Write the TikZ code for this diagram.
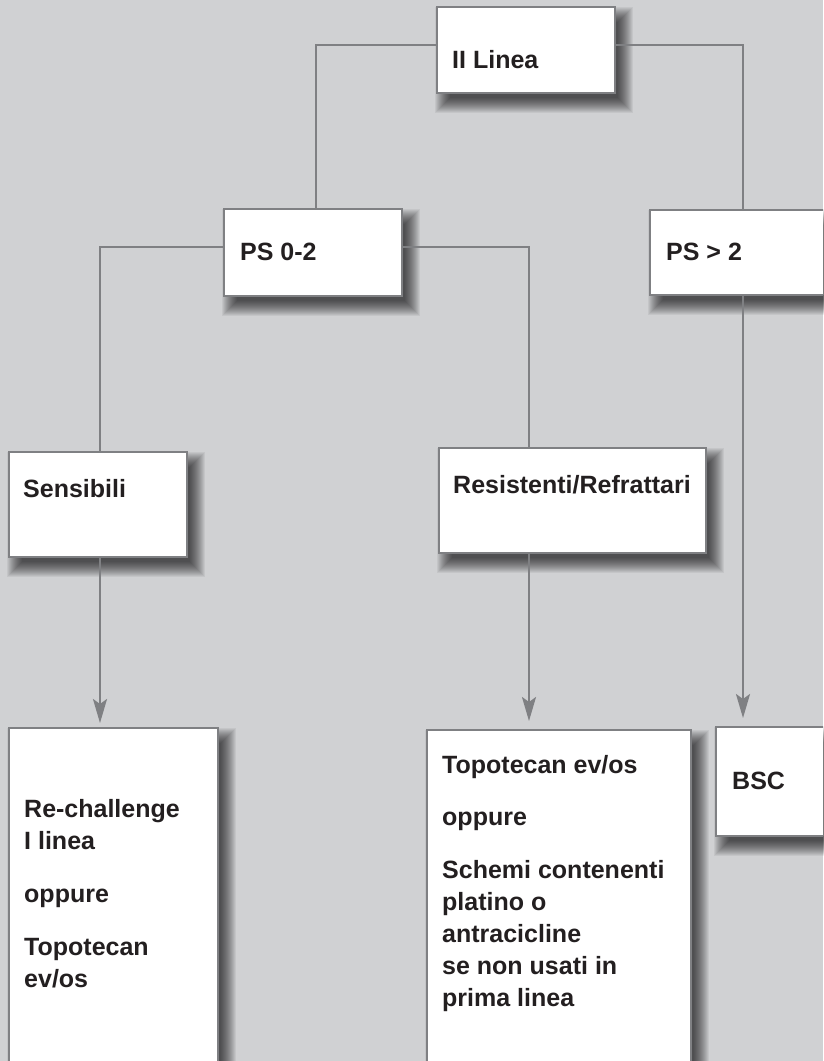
\documentclass[tikz,border=0pt]{standalone}
\usepackage{fontspec}
\setmainfont{Liberation Sans}
\usetikzlibrary{arrows.meta,calc}
\definecolor{bgc}{HTML}{D0D1D3}
\definecolor{linec}{HTML}{7F8083}
\definecolor{txtc}{HTML}{231F20}
\pgfdeclarelayer{bglayer}
\pgfdeclarelayer{shadowlayer}
\pgfsetlayers{bglayer,shadowlayer,main}
\newcommand\myboxshadow[1]{%
  \foreach \r in {-6,...,9}{%
    \fill[black,fill opacity=0.055]
      ([xshift={(8-\r)*1pt},yshift={(-10-\r)*1pt}]#1.south west)
      rectangle
      ([xshift={(8+\r)*1pt},yshift={(-10+\r)*1pt}]#1.north east);
  }}
\tikzset{
  box/.style={draw=linec,line width=2pt,fill=white,inner sep=0pt},
  lbl/.style={anchor=base west,inner sep=0pt,text=txtc,font=\fontsize{25}{32}\selectfont\bfseries},
  conn/.style={draw=linec,line width=2.2pt},
  arr/.style={conn,-{Stealth[length=24pt,width=14pt,inset=5pt]}}
}
\begin{document}
\begin{tikzpicture}[x=1pt,y=-1pt]
\useasboundingbox (0,0) rectangle (823,1061);
\clip (0,0) rectangle (823,1061);
\begin{pgfonlayer}{bglayer}
\fill[bgc] (0,0) rectangle (823,1061);
\end{pgfonlayer}
% boxes
\node[box,minimum width=178pt,minimum height=86pt] (ii) at (526,50) {};
\node[box,minimum width=178pt,minimum height=87pt] (ps02) at (313,252.5) {};
\node[box,minimum width=178pt,minimum height=85pt] (ps2) at (739,252.5) {};
\node[box,minimum width=178pt,minimum height=105pt] (sens) at (98,504.5) {};
\node[box,minimum width=267pt,minimum height=105pt] (res) at (572.5,500.5) {};
\node[box,minimum width=209pt,minimum height=351pt] (botL) at (113.5,903.5) {};
\node[box,minimum width=264pt,minimum height=349pt] (botM) at (559,904.5) {};
\node[box,minimum width=178pt,minimum height=109pt] (bsc) at (805,781.5) {};
\begin{pgfonlayer}{shadowlayer}
\foreach \n in {ii,ps02,ps2,sens,res,botL,botM,bsc}{\myboxshadow{\n}}
\end{pgfonlayer}
% texts
\node[lbl] (tii) at (452,68) {II Linea};
\node[lbl] (tps02) at (240,260) {PS 0-2};
\node[lbl] (tps2) at (666,260) {PS > 2};
\node[lbl] (tsens) at (23,497) {Sensibili};
\node[lbl] (tres) at (453,493) {Resistenti/Refrattari};
\node[lbl] (tbsc) at (732,789) {BSC};
\node[lbl] (tbotL) at (24,817) {\begin{tabular}[t]{@{}l@{}}Re-challenge\\I linea\\[21pt]oppure\\[21pt]Topotecan\\ev/os\end{tabular}};
\node[lbl] (tbotM) at (442,773) {\begin{tabular}[t]{@{}l@{}}Topotecan ev/os\\[20pt]oppure\\[21pt]Schemi contenenti\\platino o\\antracicline\\se non usati in\\prima linea\end{tabular}};
% connectors
\draw[conn] ([yshift=5pt]ii.west) -| ([xshift=3pt]ps02.north);
\draw[conn] ([yshift=5pt]ii.east) -| ([xshift=4pt]ps2.north);
\draw[conn] ([yshift=5.5pt]ps02.west) -| ([xshift=2pt]sens.north);
\draw[conn] ([yshift=5.5pt]ps02.east) -| ([xshift=-43.5pt]res.north);
\draw[arr] ([xshift=2pt]sens.south) -- ([xshift=-13.5pt,yshift=4pt]botL.north);
\draw[arr] ([xshift=-43.5pt]res.south) -- ([xshift=-30pt,yshift=8pt]botM.north);
\draw[arr] ([xshift=4pt]ps2.south) -- ([xshift=-62pt,yshift=8pt]bsc.north);
\end{tikzpicture}
\end{document}
